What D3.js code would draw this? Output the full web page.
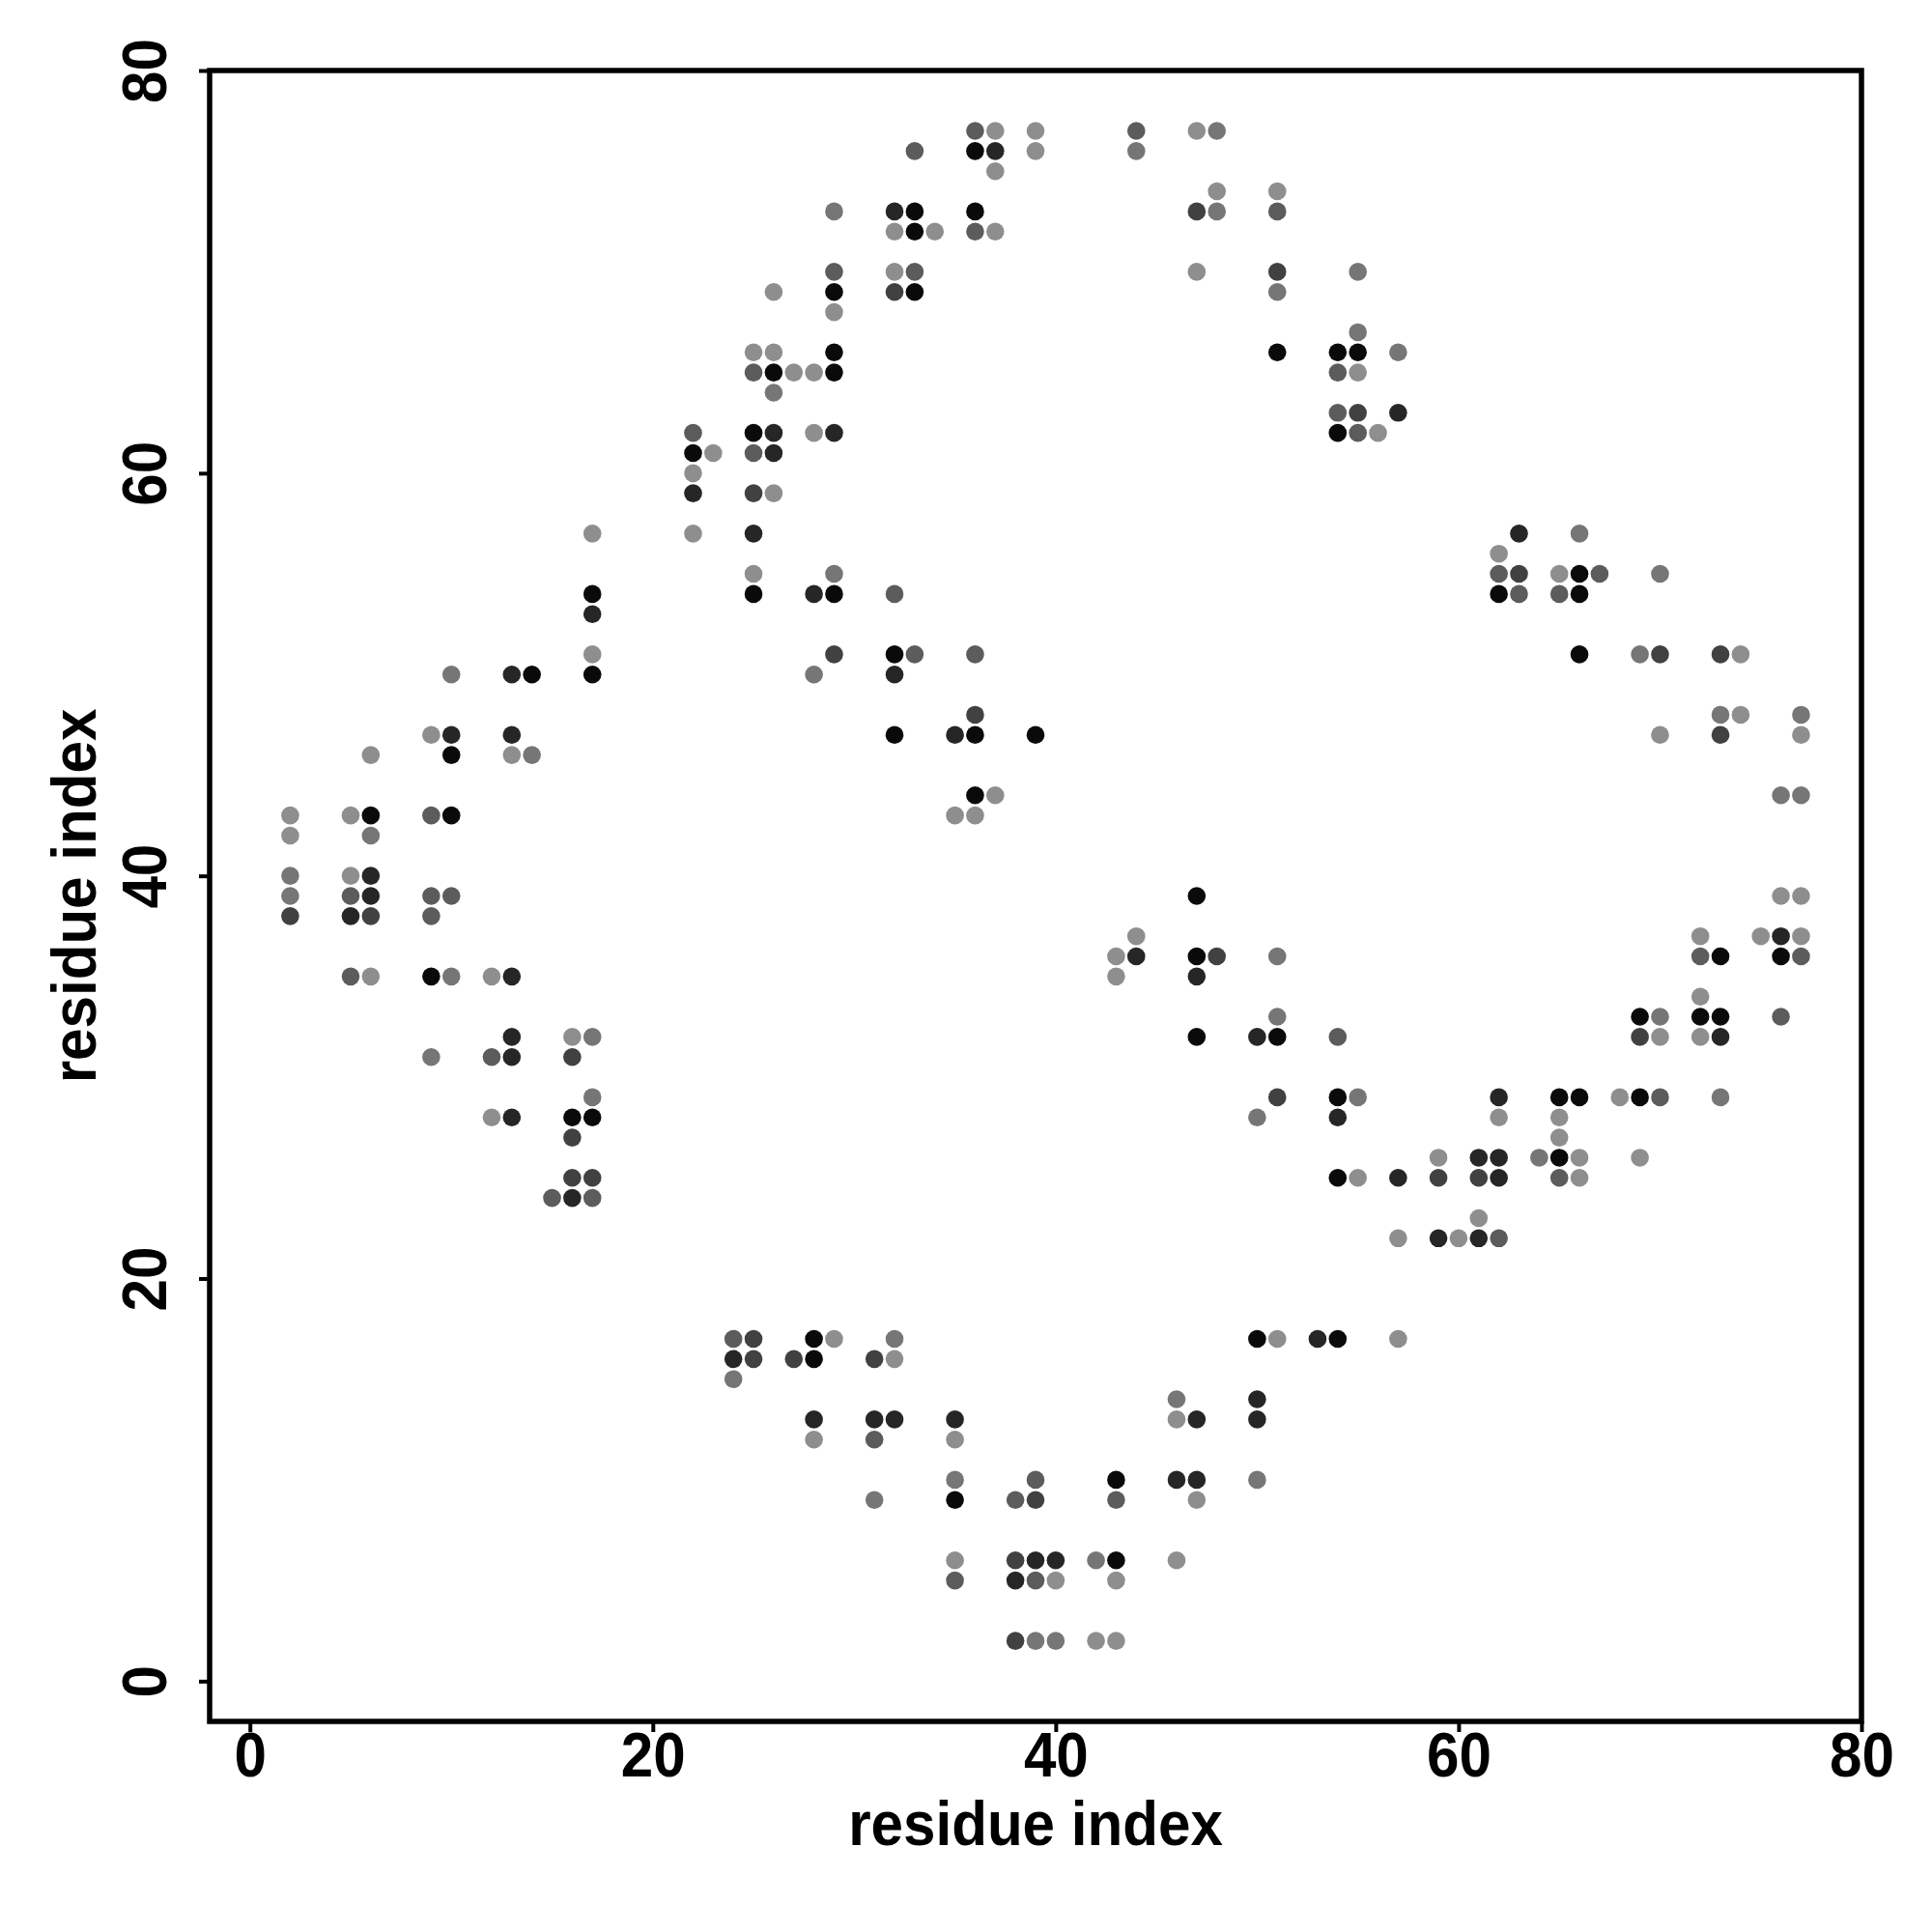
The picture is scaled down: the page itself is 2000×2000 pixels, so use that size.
<!DOCTYPE html>
<html>
<head>
<meta charset="utf-8">
<script src="https://cdn.jsdelivr.net/npm/d3@7"></script>
<style>
  html, body { margin: 0; padding: 0; background: #fff; }
  svg { display: block; }
  text { font-family: "Liberation Sans", Arial, Helvetica, sans-serif; font-weight: bold; }
</style>
</head>
<body>
<svg id="chart" width="2000" height="2000"></svg>
<script>
// Contact map: [residue i, residue j, shade level 0 (darkest) .. 5 (lightest)]
const contactsLeftLow = [
  [2,39,4],[5,39,3],[6,39,1],[9,39,3],[10,39,3],
  [2,38,2],[5,38,1],[6,38,2],[9,38,3],
  [5,35,3],[6,35,5],[9,35,0],[10,35,4],[12,35,5],[13,35,1],
  [13,32,1],[16,32,5],[17,32,4],
  [9,31,4],[12,31,3],[13,31,1],[16,31,2],
  [17,29,4],
  [12,28,5],[13,28,1],[16,28,0],[17,28,0],
  [16,27,2],
  [16,25,2],[17,25,2],
  [15,24,3],[16,24,1],[17,24,3]
];
const contactsLeftHigh = [
  [17,57,5],
  [17,54,0],
  [17,53,1],
  [17,51,5],
  [10,50,4],[13,50,1],[14,50,0],[17,50,0],
  [9,47,5],[10,47,1],[13,47,1],
  [6,46,5],[10,46,0],[13,46,5],[14,46,4],
  [2,43,5],[5,43,5],[6,43,0],[9,43,3],[10,43,0],
  [2,42,5],[6,42,4],
  [2,40,4],[5,40,5],[6,40,1]
];
const contactsMidHigh = [
  [22,59,1],[25,59,2],[26,59,5],
  [22,57,5],[25,57,1],
  [25,55,5],[29,55,4],
  [25,54,0],[28,54,1],[29,54,0],[32,54,3],
  [29,51,2],[32,51,0],[33,51,3],[36,51,3],
  [28,50,4],[32,50,1],
  [36,48,2],
  [32,47,0],[35,47,1],[36,47,0],[39,47,0],
  [36,44,0],[37,44,5],
  [35,43,5],[36,43,5]
];
const contactsTopLeft = [
  [36,77,3],[37,77,5],[39,77,5],
  [33,76,3],[36,76,0],[37,76,1],[39,76,5],
  [37,75,5],
  [29,73,4],[32,73,1],[33,73,0],[36,73,0],
  [32,72,5],[33,72,0],[34,72,5],[36,72,3],[37,72,5],
  [29,70,3],[32,70,5],[33,70,3],
  [26,69,5],[29,69,0],[32,69,2],[33,69,0],
  [29,68,5],
  [25,66,5],[26,66,5],[29,66,0],
  [25,65,3],[26,65,0],[27,65,5],[28,65,5],[29,65,0],
  [26,64,4],
  [22,62,3],[25,62,0],[26,62,1],[28,62,5],[29,62,1],
  [22,61,0],[23,61,5],[25,61,3],[26,61,1],
  [22,60,5]
];
const contactsTopRight = [
  [44,77,3],[47,77,5],[48,77,4],
  [44,76,4],
  [48,74,5],[51,74,5],
  [47,73,2],[48,73,4],[51,73,3],
  [47,70,5],[51,70,2],[55,70,4],
  [51,69,4],
  [55,67,4],
  [51,66,0],[54,66,0],[55,66,0],[57,66,4],
  [54,65,3],[55,65,5],
  [54,63,3],[55,63,2],[57,63,1],
  [54,62,0],[55,62,3],[56,62,5]
];
const contactsRightHigh = [
  [63,57,1],[66,57,4],
  [62,56,5],
  [62,55,3],[63,55,2],[65,55,5],[66,55,0],[67,55,3],[70,55,4],
  [62,54,0],[63,54,3],[65,54,3],[66,54,0],
  [66,51,0],[69,51,4],[70,51,2],[73,51,2],[74,51,5],
  [73,48,4],[74,48,5],[77,48,4],
  [70,47,5],[73,47,2],[77,47,5],
  [76,44,4],[77,44,4]
];
const contactsCentre = [
  [47,39,0],
  [44,37,5],
  [43,36,5],[44,36,1],[47,36,0],[48,36,2],[51,36,4],
  [43,35,5],[47,35,1],
  [51,33,4],
  [47,32,0],[50,32,1],[51,32,0],[54,32,3],
  [51,29,2],[54,29,0],[55,29,4],
  [50,28,4],[54,28,1],
  [59,26,5],
  [54,25,0],[55,25,5],[57,25,1],[59,25,2],
  [57,22,5],[59,22,1]
];
const contactsRightLow = [
  [76,39,5],[77,39,5],
  [72,37,5],[75,37,5],[76,37,1],[77,37,5],
  [72,36,3],[73,36,0],[76,36,0],[77,36,3],
  [72,34,5],
  [69,33,0],[70,33,4],[72,33,0],[73,33,0],[76,33,3],
  [69,32,2],[70,32,5],[72,32,5],[73,32,1],
  [62,29,1],[65,29,0],[66,29,0],[68,29,5],[69,29,0],[70,29,3],[73,29,4],
  [62,28,5],[65,28,5],
  [65,27,5],
  [61,26,1],[62,26,1],[64,26,4],[65,26,0],[66,26,5],[69,26,5],
  [61,25,2],[62,25,1],[65,25,3],[66,25,5],
  [61,23,5],
  [60,22,5],[61,22,1],[62,22,3]
];
const contactsBottomLeft = [
  [24,17,3],[25,17,2],[28,17,0],[29,17,5],[32,17,4],
  [24,16,1],[25,16,2],[27,16,2],[28,16,0],[31,16,2],[32,16,5],
  [24,15,4],
  [28,13,1],[31,13,1],[32,13,1],[35,13,1],
  [28,12,5],[31,12,3],[35,12,5],
  [35,10,4],[39,10,3],
  [31,9,4],[35,9,0],[38,9,3],[39,9,2],
  [35,6,5],[38,6,2],[39,6,1],
  [35,5,3],[38,5,1],[39,5,3],
  [38,2,2],[39,2,4]
];
const contactsBottomRight = [
  [50,17,0],[51,17,5],[53,17,1],[54,17,0],[57,17,5],
  [46,14,4],[50,14,1],
  [46,13,5],[47,13,1],[50,13,1],
  [43,10,0],[46,10,1],[47,10,1],[50,10,4],
  [43,9,3],[47,9,5],
  [40,6,1],[42,6,4],[43,6,0],[46,6,5],
  [40,5,5],[43,5,5],
  [40,2,4],[42,2,5],[43,2,5]
];
const shadeLevels = [0, 1, 2, 3, 4, 5];
const shadeColors = ["#0a0a0a", "#262626", "#414141", "#5c5c5c", "#767676", "#8e8e8e"];
const xTicks = [0, 20, 40, 60, 80];
const yTicks = [0, 20, 40, 60, 80];
const xTitle = "residue index";
const yTitle = "residue index";

const contacts = [].concat(contactsLeftLow, contactsLeftHigh, contactsMidHigh, contactsTopLeft,
  contactsTopRight, contactsRightHigh, contactsCentre, contactsRightLow,
  contactsBottomLeft, contactsBottomRight);

const svg = d3.select("#chart");
svg.append("rect").attr("width", 2000).attr("height", 2000).attr("fill", "#fff");

const L = 217, R = 1927, T = 73, B = 1782;
const x = d3.scaleLinear().domain([-2, 80]).range([L, R]);
const y = d3.scaleLinear().domain([-2, 80]).range([B, T]);
const color = d3.scaleOrdinal().domain(shadeLevels).range(shadeColors);

svg.append("g").selectAll("circle")
  .data(contacts)
  .join("circle")
  .attr("cx", d => x(d[0]))
  .attr("cy", d => y(d[1]))
  .attr("r", 9.3)
  .attr("fill", d => color(d[2]));

// frame
svg.append("rect")
  .attr("x", L).attr("y", T).attr("width", R - L).attr("height", B - T)
  .attr("fill", "none").attr("stroke", "#000").attr("stroke-width", 5.5);

const fs = 64, sx = 0.94;
const xAxis = svg.append("g")
  .attr("transform", `translate(0,${B})`)
  .call(d3.axisBottom(x).tickValues(xTicks).tickSize(11).tickFormat(d3.format("d")));
xAxis.select(".domain").remove();
xAxis.selectAll(".tick line").attr("stroke", "#000").attr("stroke-width", 4);
xAxis.selectAll(".tick text")
  .attr("y", 57).attr("dy", 0)
  .attr("transform", `scale(${sx},1)`)
  .attr("font-size", fs).attr("font-weight", "bold").attr("fill", "#000")
  .attr("font-family", '"Liberation Sans", Arial, sans-serif');

const yAxis = svg.append("g")
  .attr("transform", `translate(${L},0)`)
  .call(d3.axisLeft(y).tickValues(yTicks).tickSize(11).tickFormat(d3.format("d")));
yAxis.select(".domain").remove();
yAxis.selectAll(".tick line").attr("stroke", "#000").attr("stroke-width", 4);
yAxis.selectAll(".tick text")
  .attr("x", 0).attr("dy", 0)
  .attr("text-anchor", "middle")
  .attr("transform", `translate(-45,0) rotate(-90) scale(${sx},1)`)
  .attr("font-size", fs).attr("font-weight", "bold").attr("fill", "#000")
  .attr("font-family", '"Liberation Sans", Arial, sans-serif');

svg.append("text")
  .attr("transform", `translate(${(L + R) / 2},1910) scale(${sx},1)`)
  .attr("text-anchor", "middle")
  .attr("font-size", fs).attr("fill", "#000")
  .text(xTitle);

svg.append("text")
  .attr("transform", `translate(99,${(T + B) / 2}) rotate(-90) scale(${sx},1)`)
  .attr("text-anchor", "middle")
  .attr("font-size", fs).attr("fill", "#000")
  .text(yTitle);
</script>
</body>
</html>
